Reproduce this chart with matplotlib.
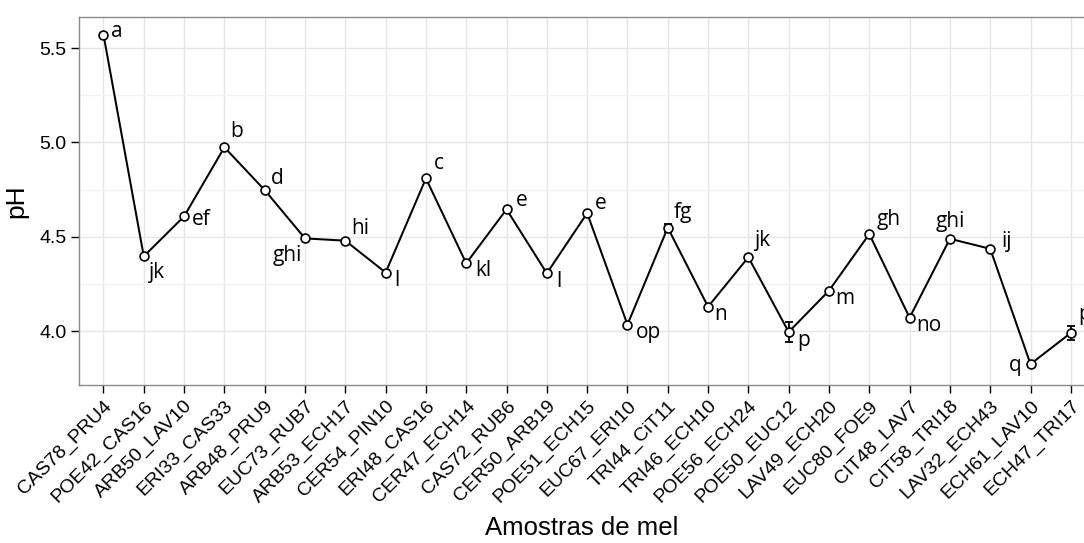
import matplotlib
matplotlib.use("Agg")
import matplotlib.pyplot as plt
import numpy as np

categories = ["CAS78_PRU4", "POE42_CAS16", "ARB50_LAV10", "ERI33_CAS33", "ARB48_PRU9",
              "EUC73_RUB7", "ARB53_ECH17", "CER54_PIN10", "ERI48_CAS16", "CER47_ECH14",
              "CAS72_RUB6", "CER50_ARB19", "POE51_ECH15", "EUC67_ERI10", "TRI44_CiT11",
              "TRI46_ECH10", "POE56_ECH24", "POE50_EUC12", "LAV49_ECH20", "EUC80_FOE9",
              "CIT48_LAV7", "CIT58_TRI18", "LAV32_ECH43", "ECH61_LAV10", "ECH47_TRI17"]
ph_mean = [5.571, 4.396, 4.608, 4.974, 4.747, 4.491, 4.479, 4.310, 4.809, 4.359,
           4.645, 4.306, 4.625, 4.034, 4.548, 4.129, 4.391, 3.995, 4.214, 4.514,
           4.071, 4.489, 4.436, 3.825, 3.990]
ph_err = [0.003, 0.003, 0.003, 0.003, 0.003, 0.003, 0.003, 0.012, 0.003, 0.003,
          0.003, 0.012, 0.008, 0.003, 0.022, 0.003, 0.003, 0.055, 0.003, 0.003,
          0.003, 0.003, 0.003, 0.008, 0.035]
letters = ["a", "jk", "ef", "b", "d", "ghi", "hi", "l", "c", "kl",
           "e", "l", "e", "op", "fg", "n", "jk", "p", "m", "gh",
           "no", "ghi", "ij", "q", "p"]
y_ticks = [4.0, 4.5, 5.0, 5.5]

# label placement (pixel offsets, horizontal alignment)
label_pos = [(8, 3, "left"), (4, -16, "left"), (8, -3, "left"), (6, 16, "left"), (6, 12, "left"),
             (-3, -17, "right"), (6, 12, "left"), (9, -8, "left"), (8, 15, "left"), (9, -7, "left"),
             (9, 9, "left"), (9, -8, "left"), (8, 10, "left"), (8, -8, "left"), (6, 15, "left"),
             (6, -8, "left"), (6, 17, "left"), (9, -9, "left"), (6, -8, "left"), (7, 15, "left"),
             (7, -8, "left"), (0, 17, "center"), (11, 7, "left"), (-9, -1, "right"), (7, 18, "left")]

W, H = 1084, 543
fig = plt.figure(figsize=(W / 100, H / 100), dpi=100)
left_px, right_px, top_px, bottom_px = 79.3, 1095.0, 17.3, 385.0
ax = fig.add_axes([left_px / W, 1 - bottom_px / H, (right_px - left_px) / W, (bottom_px - top_px) / H])

x = np.arange(len(categories))
ax.set_xlim(-0.6, len(categories) - 1 + 0.6)
ax.set_ylim(3.714, 5.663)

# grid
ax.set_axisbelow(True)
ax.set_yticks(y_ticks)
ax.set_yticks([4.25, 4.75, 5.25], minor=True)
ax.set_xticks(x)
ax.grid(which="major", color="#e6e6e6", linewidth=1.0)
ax.grid(which="minor", axis="y", color="#f2f2f2", linewidth=1.0)
ax.tick_params(axis="y", which="minor", length=0)

ax.errorbar(x, ph_mean, yerr=ph_err, fmt="none", ecolor="black", elinewidth=1.3,
            capsize=3.2, capthick=1.3, zorder=3)
ax.plot(x, ph_mean, color="black", linewidth=1.45, zorder=4,
        marker="o", markersize=6.4, markerfacecolor="white", markeredgecolor="black",
        markeredgewidth=1.2)

for xi, yi, lab, (dx, dy, ha) in zip(x, ph_mean, letters, label_pos):
    ax.annotate(lab, (xi, yi), xytext=(dx * 0.72, dy * 0.72), textcoords="offset points",
                ha=ha, va="center", fontsize=15, family="Open Sans", color="black",
                zorder=5, annotation_clip=False)

ax.set_yticklabels([f"{v:.1f}" for v in y_ticks], fontsize=14, family="Liberation Sans")
ax.set_xticklabels(categories, rotation=45, ha="right", va="top", rotation_mode="anchor",
                   fontsize=14, family="Liberation Sans")
ax.tick_params(axis="both", which="major", length=6, width=1.0, color="black", direction="out", pad=3)

for side in ["left", "top", "bottom"]:
    ax.spines[side].set_color("#8a8a8a")
    ax.spines[side].set_linewidth(1.0)
ax.spines["right"].set_visible(False)

ax.set_ylabel("pH", fontsize=19, family="Liberation Sans", labelpad=8)
fig.text(0.5 * (left_px + 1084) / W, 1 - 528 / H, "Amostras de mel", fontsize=18.5,
         family="Liberation Sans", ha="center", va="center")

fig.savefig("out.png", dpi=100)
